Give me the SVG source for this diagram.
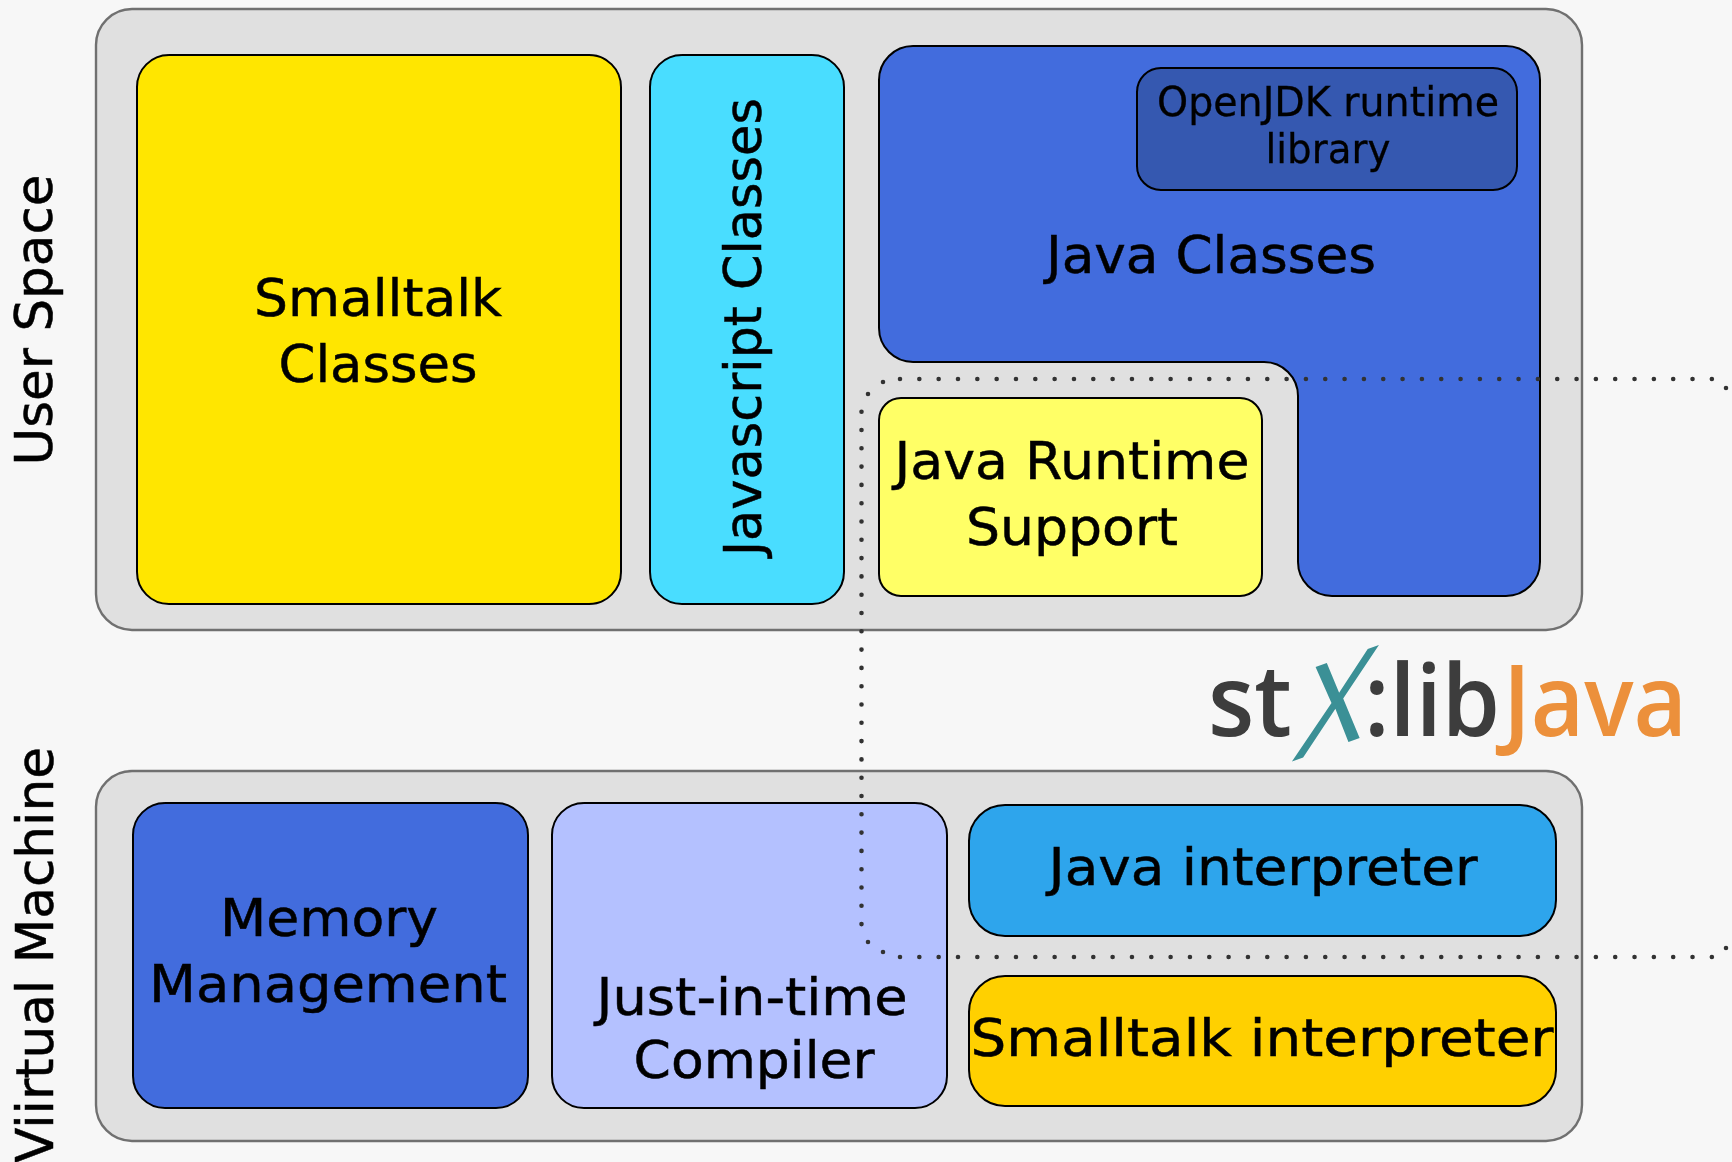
<svg xmlns="http://www.w3.org/2000/svg" width="1732" height="1162" viewBox="0 0 1732 1162">
<defs><filter id="soft" x="-2%" y="-2%" width="104%" height="104%"><feGaussianBlur stdDeviation="0.5"/></filter></defs>
<style>
.s{stroke:#000;stroke-width:2}
.p{fill:#e0e0e0;stroke:#707070;stroke-width:2.4}
text{font-family:"DejaVu Sans",sans-serif;fill:#000;stroke:#000;stroke-width:.5;text-anchor:middle;font-size:52px}
.sm{font-size:40.5px;stroke-width:.3}
.logo{font-family:"Open Sans",sans-serif;font-weight:600;font-size:100px;text-anchor:start;stroke:none}
.dots{fill:none;stroke:#333;stroke-width:4.6;stroke-linecap:round}
</style>
<rect width="1732" height="1162" fill="#f7f7f7"/>
<g filter="url(#soft)">
<g id="panel-user-space"><rect class="p" x="96" y="9" width="1486" height="621" rx="36"/></g>
<g id="panel-virtual-machine"><rect class="p" x="96" y="771" width="1486" height="370" rx="36"/></g>
<g id="label-user-space"><text transform="translate(52 320) rotate(-90)" textLength="291" lengthAdjust="spacingAndGlyphs">User Space</text></g>
<g id="label-virtual-machine"><text transform="translate(53 955) rotate(-90)" textLength="416" lengthAdjust="spacingAndGlyphs">Viirtual Machine</text></g>
<g id="smalltalk-classes"><rect class="s" fill="#ffe600" x="137" y="55" width="484" height="549" rx="32"/><text x="378" y="316" textLength="248" lengthAdjust="spacingAndGlyphs">Smalltalk</text><text x="378" y="382" textLength="199" lengthAdjust="spacingAndGlyphs">Classes</text></g>
<g id="javascript-classes"><rect class="s" fill="#48ddff" x="650" y="55" width="194" height="549" rx="32"/><text transform="translate(761 327) rotate(-90)" textLength="458" lengthAdjust="spacingAndGlyphs">Javascript Classes</text></g>
<g id="java-classes"><path class="s" fill="#426cdd" d="M913 46H1506a34 34 0 0 1 34 34V562a34 34 0 0 1-34 34H1332a34 34 0 0 1-34-34V396a34 34 0 0 0-34-34H913a34 34 0 0 1-34-34V80a34 34 0 0 1 34-34Z"/><text x="1211" y="273" textLength="330" lengthAdjust="spacingAndGlyphs">Java Classes</text></g>
<g id="openjdk-library"><rect class="s" fill="#3558b0" x="1137" y="68" width="380" height="122" rx="24"/><text class="sm" x="1328" y="116" textLength="342" lengthAdjust="spacingAndGlyphs">OpenJDK runtime</text><text class="sm" x="1328" y="163" textLength="125" lengthAdjust="spacingAndGlyphs">library</text></g>
<g id="java-runtime-support"><rect class="s" fill="#ffff66" x="879" y="398" width="383" height="198" rx="22"/><text x="1072" y="479" textLength="355" lengthAdjust="spacingAndGlyphs">Java Runtime</text><text x="1072" y="545" textLength="212" lengthAdjust="spacingAndGlyphs">Support</text></g>
<g id="stx-libjava-logo"><text class="logo" x="1208" y="736" style="fill:#3c3c3c" textLength="84" lengthAdjust="spacingAndGlyphs">st</text><text style="font-family:'DejaVu Sans ExtraLight','Liberation Sans',sans-serif;font-weight:200;font-size:100px;fill:#3a9096;stroke:none" transform="matrix(1.085 -.375 -.312 1.363 1325.6 749.7)">X</text><text class="logo" x="1364" y="736" style="fill:#3c3c3c" textLength="136" lengthAdjust="spacingAndGlyphs">:lib</text><text class="logo" x="1503" y="736" style="fill:#ec903a" textLength="184" lengthAdjust="spacingAndGlyphs">Java</text></g>
<g id="memory-management"><rect class="s" fill="#426cdd" x="133" y="803" width="395" height="305" rx="32"/><text x="329" y="936" textLength="218" lengthAdjust="spacingAndGlyphs">Memory</text><text x="328" y="1002" textLength="358" lengthAdjust="spacingAndGlyphs">Management</text></g>
<g id="jit-compiler"><rect class="s" fill="#b4c1ff" x="552" y="803" width="395" height="305" rx="32"/><text x="752" y="1015" textLength="311" lengthAdjust="spacingAndGlyphs">Just-in-time</text><text x="754" y="1078" textLength="241" lengthAdjust="spacingAndGlyphs">Compiler</text></g>
<g id="java-interpreter"><rect class="s" fill="#2ea5ec" x="969" y="805" width="587" height="131" rx="36"/><text x="1263" y="885" textLength="429" lengthAdjust="spacingAndGlyphs">Java interpreter</text></g>
<g id="smalltalk-interpreter"><rect class="s" fill="#ffd000" x="969" y="976" width="587" height="130" rx="36"/><text x="1262" y="1056" textLength="583" lengthAdjust="spacingAndGlyphs">Smalltalk interpreter</text></g>
<g id="connectors"><path class="dots" stroke-dasharray="0 19.33" d="M900 379H1712M900 957H1712"/><path class="dots" stroke-dasharray="0 18.3" d="M861.5 411.7V925"/><path class="dots" d="M883 382h0M868 394h0M883 952h0M868 942h0M1726 388h0M1726 948h0"/></g>
</g>
</svg>
